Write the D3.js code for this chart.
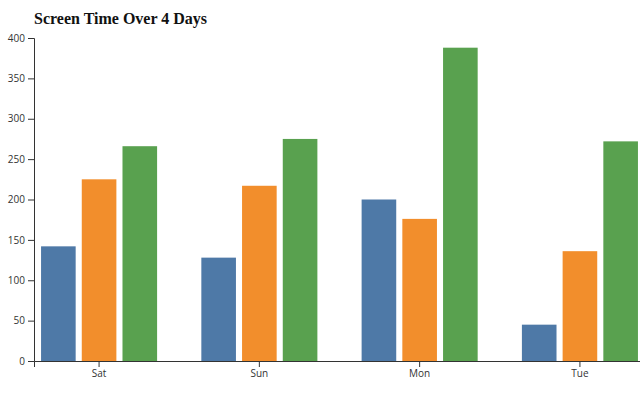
<!DOCTYPE html>
<html><head><meta charset="utf-8">
<script src="https://cdn.jsdelivr.net/npm/d3@7"></script>
<style>body{margin:0;background:#fff;} svg{display:block;}</style>
</head><body>
<svg id="chart" width="640" height="400"></svg>
<script>
const days = ["Sat", "Sun", "Mon", "Tue"];
const seriesNames = ["A", "B", "C"];
const seriesA = [142, 128, 200, 45];
const seriesB = [225, 217, 176, 136];
const seriesC = [266, 275, 388, 272];
const yTicks = [0, 50, 100, 150, 200, 250, 300, 350, 400];
const colors = ["#4e79a7", "#f28e2c", "#59a14f"];
const title = "Screen Time Over 4 Days";

(function () {
const values = [seriesA, seriesB, seriesC];
const svg = d3.select("#chart");
const mLeft = 34, mTop = 38, mBottom = 361;

const x0 = d3.scaleBand().domain(days).range([mLeft, 645]).paddingInner(0.276).paddingOuter(0.044);
const x1 = d3.scaleBand().domain(seriesNames).range([0, x0.bandwidth()]).paddingInner(0.15);
const y = d3.scaleLinear().domain([0, 400]).range([mBottom, mTop]);

const g = svg.append("g");
days.forEach((d, i) => {
  seriesNames.forEach((s, j) => {
    g.append("rect")
      .attr("x", x0(d) + x1(s))
      .attr("y", y(values[j][i]))
      .attr("width", x1.bandwidth())
      .attr("height", y(0) - y(values[j][i]))
      .attr("fill", colors[j]);
  });
});

const yAxis = svg.append("g").attr("transform", `translate(${mLeft},0)`)
  .call(d3.axisLeft(y).tickValues(yTicks).tickSize(6).tickSizeOuter(6));
const xAxis = svg.append("g").attr("transform", `translate(0,${mBottom})`)
  .call(d3.axisBottom(x0).tickSize(6).tickSizeOuter(6));
[yAxis, xAxis].forEach(a => {
  a.selectAll("path,line").attr("stroke", "#333");
  a.selectAll("text").attr("fill", "#333").style("font-family", "'Open Sans', sans-serif").style("font-size", "10px");
});

svg.append("text").attr("x", mLeft).attr("y", 24).text(title)
  .style("font-family", "'Liberation Serif', serif").style("font-weight", "bold")
  .style("font-size", "16px").attr("fill", "#111");
})();
</script>
</body></html>
